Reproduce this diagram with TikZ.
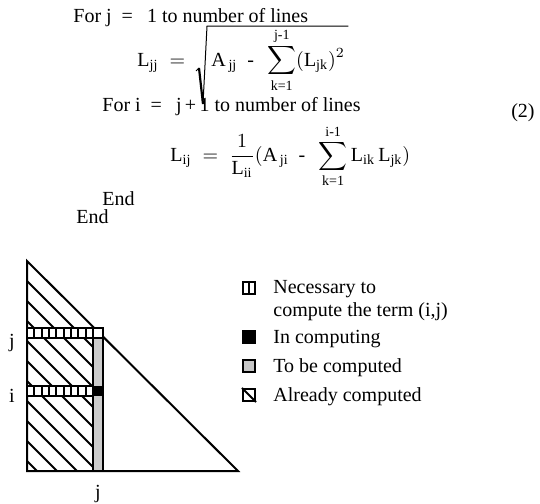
\documentclass[tikz,border=0pt]{standalone}
\usepackage{amsmath}
\usepackage{fontspec}
\setmainfont{Liberation Serif}
\usetikzlibrary{positioning, calc}
\tikzset{
  txt/.style={inner sep=0pt, anchor=base west, font=\fontsize{10}{12}\selectfont},
  radical/.style={line width=0.5pt, line join=miter},
  edge/.style={line width=1pt},
  hatchline/.style={line width=0.9pt},
  cellrow/.style={draw, line width=1.2pt, fill=white},
  sepline/.style={line width=0.9pt},
  tobe/.style={draw, line width=1.2pt, fill=gray!40},
  key/.style={rectangle, minimum size=6pt, inner sep=0pt, draw, line width=1.1pt},
}

\begin{document}
\begin{tikzpicture}[x=0.5pt, y=-0.5pt]
  \useasboundingbox (0,0) rectangle (540,503);

  % ── Algorithm ──────────────────────────────────────────────────────────────
  \node[txt] (forj) at (73,22) {For j\hspace{5pt}=\hspace{7pt}1 to number of lines};
  \node[txt] (ljj) at (137,66) {$\mathrm{L}_{\text{jj}}\;=\;$};
  \node[txt] (radin) at (211,66)
      {$\displaystyle \mathrm{A}_{\,\text{jj}}\ \ \text{-}\ \
       \sum_{\text{k=1}}^{\text{j-1}}(\mathrm{L}_{\text{jk}})^2$};
  \draw[radical] ($(radin.base west)+(-15,5)$) -- ($(radin.base west)+(-12,2)$);
  \draw[radical, line width=1.1pt] ($(radin.base west)+(-12,2)$) -- ($(radin.base west)+(-8,38)$);
  \draw[radical] ($(radin.base west)+(-8,38)$) -- ($(radin.north west)+(-4,-2)$)
      -- ($(radin.north east)+(3,-2)$);
  \node[txt] (fori) at (102,111) {For i\hspace{5pt}=\hspace{7pt}j\,+\,1 to number of lines};
  \node[txt, anchor=base east] (eqno) at (535,117) {(2)};
  \node[txt] (lij) at (170,161)
      {$\displaystyle \mathrm{L}_{\text{ij}}\;=\;\frac{1}{\mathrm{L}_{\text{ii}}}(\mathrm{A}_{\,\text{ji}}\ \ \text{-}\ \
       \sum_{\text{k=1}}^{\text{i-1}}\mathrm{L}_{\text{ik}}\,\mathrm{L}_{\text{jk}})$};
  \node[txt] (endi) at (102,205) {End};
  \node[txt] (endj) at (76,223) {End};

  % ── Already computed part ──────────────────────────────────────────────────
  \begin{scope}
    \clip (27,261) -- (27,471) -- (93,471) -- (93,327) -- cycle;
    \foreach \c in {254,274,...,454}
      \draw[hatchline] (27,27+\c) -- ++(80,80);
  \end{scope}
  \draw[edge] (27,261) -- (27,471) -- (238,471) -- cycle;

  % ── Column j, row j, row i ─────────────────────────────────────────────────
  \draw[tobe] (93,338) rectangle (103,471);
  \draw[cellrow] (27,328) rectangle (103,338);
  \foreach \k in {1,...,9}
    \draw[sepline] (27+\k*7.333,328) -- ++(0,10);
  \draw[cellrow] (27,386) rectangle (93,396);
  \foreach \k in {1,...,8}
    \draw[sepline] (27+\k*7.333,386) -- ++(0,10);
  \fill (92,386) rectangle (103,396);

  \node[txt, anchor=base] (rowj) at (12,347) {j};
  \node[txt, anchor=base] (rowi) at (12,402) {i};
  \node[txt, anchor=base] (colj) at (98,498) {j};

  % ── Legend ─────────────────────────────────────────────────────────────────
  \node[key, fill=white] (knec) at (249,288) {};
  \draw[sepline] (knec.north) -- (knec.south);
  \node[key, fill=black] (kin) at (249,337) {};
  \node[key, fill=gray!45] (ktobe) at (249,366) {};
  \node[key, fill=white] (kdone) at (249,395) {};
  \draw[sepline] (kdone.north west) -- (kdone.south east);

  \node[txt] (tnec) at (273,293) {Necessary to};
  \node[txt] (tnec2) at (273,316) {compute the term (i,j)};
  \node[txt] (tin) at (273,343) {In computing};
  \node[txt] (ttobe) at (273,372) {To be computed};
  \node[txt] (tdone) at (273,401) {Already computed};
\end{tikzpicture}
\end{document}
